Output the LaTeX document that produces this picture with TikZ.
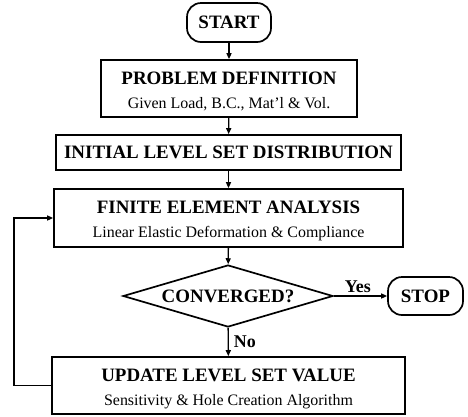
\documentclass[tikz,border=0pt]{standalone}
\usepackage{fontspec}
\setmainfont{Liberation Serif}
\usetikzlibrary{shapes.geometric,arrows.meta}

\tikzset{
  box/.style={draw,line width=1.7pt,align=center,inner sep=0pt,font=\fontsize{19}{24.5}\selectfont},
  term/.style={draw,line width=1.7pt,rounded corners=14bp,inner sep=0pt,font=\bfseries\fontsize{19}{20}\selectfont},
  flow/.style={-{Triangle[length=6pt,width=5pt]},line width=1.4pt},
}
\newcommand{\boxtext}[2]{\rule{0pt}{19pt}\textbf{#1}\\{\fontsize{16}{24.5}\selectfont #2}}

\begin{document}
\begin{tikzpicture}[x=1bp,y=-1bp]
\useasboundingbox (0,0) rectangle (468,416);

% The boxes
\node (start) at (229,22.5) [term,minimum width=84bp,minimum height=39bp]{START};
\node (probdef) at (229,88.5) [box,minimum width=256bp,minimum height=57bp]{\boxtext{PROBLEM DEFINITION}{Given Load, B.C., Mat'l \& Vol.}};
\node (initls) at (228.5,152.5) [box,minimum width=345bp,minimum height=35bp,font=\bfseries\fontsize{19}{20}\selectfont]{INITIAL LEVEL SET DISTRIBUTION};
\node (fea) at (228.5,218) [box,minimum width=349bp,minimum height=58bp]{\boxtext{FINITE ELEMENT ANALYSIS}{Linear Elastic Deformation \& Compliance}};
\node (conv) at (228,296) [diamond,draw,line width=1.7pt,aspect=3.39,minimum width=210bp,minimum height=62bp,inner sep=0pt,font=\bfseries\fontsize{19}{20}\selectfont]{CONVERGED?};
\node (stop) at (425.5,296) [term,minimum width=75bp,minimum height=38bp]{STOP};
\node (update) at (228.5,385.5) [box,minimum width=353bp,minimum height=57bp]{\boxtext{UPDATE LEVEL SET VALUE}{Sensitivity \& Hole Creation Algorithm}};

% main flow
\draw[flow] (start) -- (probdef);
\draw[flow] (probdef) -- (initls);
\draw[flow] (initls) -- (fea);
\draw[flow] (fea) -- (conv);
\draw[flow] (conv) -- (stop) node[pos=0.45,anchor=south,inner sep=3pt,font=\bfseries\fontsize{18}{20}\selectfont]{Yes};
\draw[flow] (conv) -- (update) node[midway,anchor=west,inner sep=5pt,font=\bfseries\fontsize{18}{20}\selectfont]{No};

% back to the analysis
\draw[flow] (update.west) -- ++(-37,0) coordinate(loopcorner) |- (fea.west);

\end{tikzpicture}
\end{document}
